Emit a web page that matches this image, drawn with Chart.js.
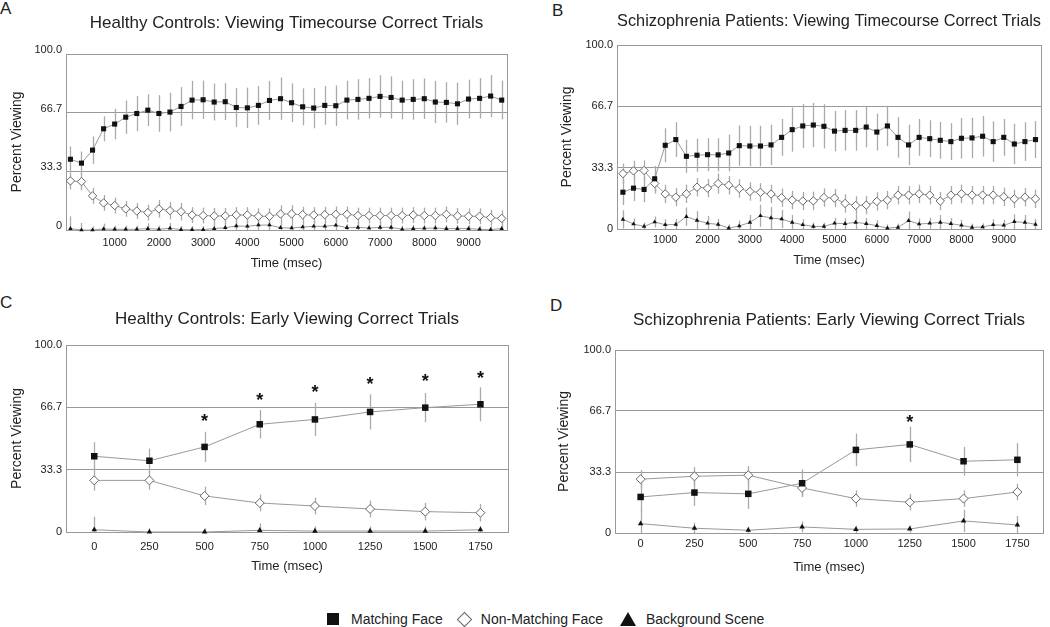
<!DOCTYPE html>
<html>
<head>
<meta charset="utf-8">
<script src="https://cdn.jsdelivr.net/npm/chart.js@4.4.1/dist/chart.umd.min.js"></script>
<style>
  body { margin: 0; background: #fff; font-family: "Liberation Sans", Arial, sans-serif; color: #222; }
  #wrap { position: relative; width: 1050px; height: 627px; overflow: hidden; }
  canvas { position: absolute; }
  .letter { position: absolute; font-size: 17px; line-height: 17px; }
  #legend { position: absolute; left: 327px; top: 610px; display: flex; align-items: center; font-size: 14px; line-height: 18px; }
  .sq { width: 12px; height: 12px; background: #111; margin-right: 12px; }
  .dm { width: 9px; height: 9px; border: 1px solid #666; background: #fff; transform: rotate(45deg); margin: 0 11px 0 16px; }
  .tr { width: 0; height: 0; border-left: 8px solid transparent; border-right: 8px solid transparent; border-bottom: 14px solid #111; margin: 0 10px 0 17px; }
</style>
</head>
<body>
<div id="wrap">
  <div class="letter" style="left:0;top:0">A</div>
  <div class="letter" style="left:552px;top:2px">B</div>
  <div class="letter" style="left:0;top:294px">C</div>
  <div class="letter" style="left:550px;top:297px">D</div>
  <canvas id="chartA" width="525" height="290" style="left:0;top:0"></canvas>
  <canvas id="chartB" width="525" height="290" style="left:525px;top:0"></canvas>
  <canvas id="chartC" width="525" height="300" style="left:0;top:290px"></canvas>
  <canvas id="chartD" width="525" height="300" style="left:525px;top:290px"></canvas>
  <div id="legend">
    <span class="sq"></span><span>Matching Face</span>
    <span class="dm"></span><span>Non-Matching Face</span>
    <span class="tr"></span><span>Background Scene</span>
  </div>
</div>
<script>
// time points (msec)
const timeLong = [0, 250, 500, 750, 1000, 1250, 1500, 1750, 2000, 2250, 2500, 2750, 3000, 3250, 3500, 3750, 4000, 4250, 4500, 4750,
  5000, 5250, 5500, 5750, 6000, 6250, 6500, 6750, 7000, 7250, 7500, 7750, 8000, 8250, 8500, 8750, 9000, 9250, 9500, 9750];
const timeShort = [0, 250, 500, 750, 1000, 1250, 1500, 1750];
const xTicksLong = [1000, 2000, 3000, 4000, 5000, 6000, 7000, 8000, 9000];
const xTicksShort = [0, 250, 500, 750, 1000, 1250, 1500, 1750];
const yTicks = [0, 33.3, 66.7, 100];
const yTickLabels = ['0', '33.3', '66.7', '100.0'];

// A: healthy controls, timecourse
const aMatch = [40.2, 38.0, 45.4, 57.5, 60.2, 64.1, 66.2, 68.1, 66.2, 67.0, 70.2, 73.8, 74.0, 72.7, 72.9, 69.6, 69.4, 70.8, 73.6, 74.6,
  72.3, 70.0, 69.3, 70.8, 70.6, 73.8, 74.2, 74.8, 75.9, 75.3, 73.8, 74.2, 74.6, 72.7, 72.5, 71.7, 74.4, 74.8, 76.1, 73.8];
const aMatchErr = [7.3, 6.6, 7.8, 7.1, 8.7, 9.5, 10, 9, 10.4, 11, 11, 10.9, 10.9, 10.5, 10.5, 11, 11.5, 11, 11, 12,
  11, 10.5, 11.5, 11, 11.5, 11, 11.5, 11.5, 12, 12, 11, 11.5, 11.5, 12, 11.5, 12, 11, 11.5, 12, 11];
const aNon = [27.9, 27.5, 19.4, 15.4, 13.9, 12.0, 10.8, 9.9, 12.0, 11.0, 10.4, 8.5, 8.2, 8.0, 8.0, 8.5, 8.5, 7.8, 7.8, 9.1,
  9.1, 8.7, 8.5, 8.7, 8.9, 8.9, 8.2, 8.2, 8.2, 8.2, 8.2, 8.5, 8.2, 8.2, 8.9, 8.0, 7.8, 7.8, 7.0, 6.6];
const aNonErr = [4.9, 5, 4.5, 4.5, 4.5, 4.5, 4.5, 4.5, 5, 5, 5, 4.5, 4.5, 4.5, 4.5, 4.5, 4.5, 4.5, 4.5, 5,
  5, 4.5, 4.5, 4.5, 4.5, 4.5, 4.5, 4.5, 4.5, 4.5, 4.5, 4.5, 4.5, 4.5, 4.5, 4.5, 4.5, 4.5, 4.5, 4.5];
const aBack = [0.8, 0, 0, 0.6, 0.4, 0.4, 0.4, 0.8, 0.4, 1.0, 0.2, 0.2, 0.2, 0.8, 1.3, 2.3, 2.1, 2.8, 2.8, 1.3,
  1.1, 1.7, 2.1, 2.1, 2.7, 1.3, 1.5, 1.1, 1.5, 1.5, 0.4, 0.8, 1.0, 1.1, 0.8, 0.8, 0.8, 0.4, 0.2, 0.8];
const aBackErr = [7, 4, 2, 3, 2, 2, 2, 3, 2, 3, 2, 2, 2, 3, 3, 3, 3, 3, 3, 3,
  3, 3, 3, 3, 3, 2, 3, 2, 3, 3, 2, 2, 2, 2, 2, 2, 2, 2, 2, 2];

// B: schizophrenia patients, timecourse
const bMatch = [20.0, 22.2, 21.5, 27.3, 45.5, 48.6, 39.5, 40.1, 40.4, 40.3, 41.3, 45.3, 45.1, 45.1, 45.7, 49.8, 54.0, 56.0, 56.5, 55.8,
  53.2, 53.6, 53.6, 55.4, 52.7, 56.0, 49.8, 45.7, 49.8, 49.1, 48.2, 47.5, 49.3, 49.5, 50.4, 47.5, 49.8, 46.2, 47.5, 48.6];
const bMatchErr = [7, 7, 7, 7, 9.2, 9.5, 9, 9, 9, 9, 10, 11, 11, 11, 11, 10, 12, 12, 12, 12,
  11, 11, 11, 11, 10, 11, 11, 11, 10, 10, 10, 10, 11, 11, 11, 11, 10, 11, 10.5, 10];
const bNon = [30.1, 31.6, 31.8, 24.7, 19.1, 17.3, 19.1, 22.7, 22.2, 24.7, 23.8, 22.0, 20.4, 19.9, 19.0, 17.0, 15.7, 15.2, 15.3, 17.1,
  16.8, 13.9, 12.8, 13.0, 15.0, 15.7, 18.4, 18.4, 19.1, 18.4, 15.2, 18.4, 19.1, 18.4, 18.4, 18.4, 17.5, 16.4, 17.3, 16.4];
const bNonErr = [5.5, 5.5, 5.5, 5.5, 5, 5, 5, 5, 5, 5.5, 5, 5, 5, 5, 5, 5, 5, 5, 5, 5,
  5, 5, 5, 5, 5, 5, 5, 5, 5, 5, 5, 5, 5, 5, 5, 5, 5, 5, 5, 5];
const bBack = [5.2, 2.7, 1.4, 3.8, 2.3, 2.5, 6.7, 4.7, 3.1, 2.5, 0.5, 1.6, 3.6, 7.2, 6.0, 5.4, 3.6, 2.3, 1.4, 1.4,
  3.1, 2.9, 3.6, 2.9, 1.8, 0.5, 0.9, 4.5, 2.7, 3.1, 3.6, 2.9, 2.0, 0.9, 1.1, 2.3, 2.0, 4.0, 3.6, 2.5];
const bBackErr = [5, 3, 2, 3, 3, 3, 5, 5, 4, 3, 2, 3, 4, 6, 6, 5, 4, 3, 2, 2,
  3, 3, 4, 3, 3, 2, 2, 5, 3, 3, 4, 3, 3, 2, 2, 3, 3, 4, 4, 3];

// C: healthy controls, early viewing
const cMatch = [40.5, 38.1, 45.5, 57.6, 60.2, 64.2, 66.5, 68.3];
const cMatchErr = [7.5, 6.5, 8.1, 7.6, 8.9, 9.4, 7.8, 9.1];
const cNon = [27.6, 27.6, 19.3, 15.5, 13.9, 12.3, 10.9, 10.3];
const cNonErr = [5.5, 5, 4.9, 4.5, 4.5, 4.5, 4.7, 4.7];
const cBack = [1.2, 0, 0, 0.9, 0.5, 0.5, 0.5, 1.2];
const cBackErr = [7, 2, 2, 3.7, 2.5, 2.5, 2.5, 2];
const cStars = [null, null, 61.5, 72.9, 77.2, 81.1, 82.9, 84.7];

// D: schizophrenia patients, early viewing
const dMatch = [19.7, 22.1, 21.4, 27.2, 45.4, 48.4, 39.2, 40.0];
const dMatchErr = [8, 7.3, 8.2, 7.5, 8.9, 9.7, 7.9, 9.1];
const dNon = [29.4, 31.0, 31.6, 24.6, 18.8, 16.8, 18.8, 22.4];
const dNonErr = [5, 5, 5, 4.8, 4.5, 4.5, 4.5, 4.5];
const dBack = [5.1, 2.6, 1.5, 3.3, 2.0, 2.2, 6.6, 4.4];
const dBackErr = [8, 3, 2, 3, 2, 2, 6, 5];
const dStars = [null, null, null, null, null, 63.0, null, null];

Chart.defaults.font.family = '"Liberation Sans", Arial, sans-serif';
Chart.defaults.color = '#222';

const GRAY = '#999';

// vertical error bars behind the markers
const errorBars = {
  id: 'errorBars',
  beforeDatasetsDraw(chart) {
    const {ctx, chartArea, scales: {x, y}} = chart;
    ctx.save();
    ctx.beginPath();
    ctx.rect(chartArea.left, chartArea.top, chartArea.width, chartArea.height);
    ctx.clip();
    ctx.strokeStyle = '#aaa';
    ctx.lineWidth = 1.3;
    chart.data.datasets.forEach(ds => {
      if (!ds.errors) return;
      ds.data.forEach((p, i) => {
        const e = ds.errors[i];
        const px = Math.round(x.getPixelForValue(p.x)) + 0.5;
        ctx.beginPath();
        ctx.moveTo(px, y.getPixelForValue(p.y - e));
        ctx.lineTo(px, y.getPixelForValue(p.y + e));
        ctx.stroke();
      });
    });
    ctx.restore();
  }
};

// box round the plot area
const frame = {
  id: 'frame',
  beforeDatasetsDraw(chart) {
    const {ctx, chartArea: a} = chart;
    ctx.save();
    ctx.strokeStyle = GRAY;
    ctx.lineWidth = 1;
    ctx.strokeRect(Math.round(a.left) + 0.5, Math.round(a.top) + 0.5, Math.round(a.width), Math.round(a.height));
    ctx.restore();
  }
};

// significance asterisks
const stars = {
  id: 'stars',
  afterDatasetsDraw(chart) {
    const {ctx, scales: {x, y}} = chart;
    chart.data.datasets.forEach(ds => {
      if (!ds.stars) return;
      ctx.save();
      ctx.font = 'bold 18px "Liberation Sans", Arial, sans-serif';
      ctx.fillStyle = '#111';
      ctx.textAlign = 'center';
      ctx.textBaseline = 'alphabetic';
      ds.stars.forEach((s, i) => {
        if (s === null) return;
        ctx.fillText('*', x.getPixelForValue(ds.data[i].x), y.getPixelForValue(s) + 10);
      });
      ctx.restore();
    });
  }
};

function pts(times, vals) {
  return times.map((t, i) => ({x: t, y: vals[i]}));
}

function makePanel(id, g, times, xTicks, xMin, xMax, title, s, big) {
  const r = big ? 1 : 0;
  new Chart(document.getElementById(id), {
    type: 'line',
    data: {
      datasets: [
        {
          label: 'Matching Face', data: pts(times, s.match), errors: s.matchErr, stars: s.stars,
          borderColor: GRAY, borderWidth: 1, pointStyle: 'rect', pointRadius: 3.6 + r,
          pointBackgroundColor: '#111', pointBorderColor: '#111', pointBorderWidth: 0, clip: false
        },
        {
          label: 'Non-Matching Face', data: pts(times, s.non), errors: s.nonErr,
          borderColor: GRAY, borderWidth: 1, pointStyle: 'rectRot', pointRadius: 4.2 + r * 0.3,
          pointBackgroundColor: '#fff', pointBorderColor: '#666', pointBorderWidth: 1, clip: false
        },
        {
          label: 'Background Scene', data: pts(times, s.back), errors: s.backErr,
          borderColor: GRAY, borderWidth: 1, pointStyle: 'triangle', pointRadius: 2.6 + r * 0.6,
          pointBackgroundColor: '#111', pointBorderColor: '#111', pointBorderWidth: 0, clip: false
        }
      ]
    },
    options: {
      responsive: false,
      animation: false,
      devicePixelRatio: 1,
      layout: {padding: {left: 0, top: 0, right: g.padRight, bottom: g.padBottom}},
      plugins: {
        legend: {display: false},
        tooltip: {enabled: false},
        title: {
          display: true, text: title, fullSize: false, color: '#222',
          font: {size: 17, weight: 'normal'},
          padding: {top: g.titleTop, bottom: g.titleBottom}
        }
      },
      scales: {
        x: {
          type: 'linear', min: xMin, max: xMax,
          afterBuildTicks: axis => { axis.ticks = xTicks.map(v => ({value: v})); },
          afterFit: axis => { axis.height = g.xHeight; },
          grid: {display: false, drawTicks: false},
          border: {display: false},
          ticks: {font: {size: 11}, padding: g.xTickPad, maxRotation: 0, autoSkip: false, color: '#222',
            callback: v => String(v)},
          title: {display: true, text: 'Time (msec)', font: {size: 13}, padding: {top: 0, bottom: 0}, color: '#222'}
        },
        y: {
          min: 0, max: 100,
          afterBuildTicks: axis => { axis.ticks = yTicks.map(v => ({value: v})); },
          afterFit: axis => { axis.width = g.yWidth; },
          grid: {color: GRAY, drawTicks: false, lineWidth: 1},
          border: {display: false},
          ticks: {font: {size: 11}, padding: 4, color: '#222', labelOffset: g.yLabelOffset,
            callback: (v, i) => yTickLabels[i]},
          title: {display: true, text: 'Percent Viewing', font: {size: 14}, padding: {top: g.yTitlePad, bottom: 0}, color: '#222'}
        }
      }
    },
    plugins: [frame, errorBars, stars]
  });
}

makePanel('chartA',
  {padRight: 18, padBottom: 19.2, titleTop: 12.8, titleBottom: 20.8, xHeight: 40.8, yWidth: 66, xTickPad: 6.4, yTitlePad: 8.6, yLabelOffset: -4},
  timeLong, xTicksLong, -100, 9870, 'Healthy Controls: Viewing Timecourse Correct Trials',
  {match: aMatch, matchErr: aMatchErr, non: aNon, nonErr: aNonErr, back: aBack, backErr: aBackErr, stars: null}, false);

makePanel('chartB',
  {padRight: 9, padBottom: 22.2, titleTop: 11.5, titleBottom: 13.1, xHeight: 38.8, yWidth: 92, xTickPad: 4.4, yTitlePad: 33.3, yLabelOffset: 0},
  timeLong, xTicksLong, -140, 9880, 'Schizophrenia Patients: Viewing Timecourse Correct Trials',
  {match: bMatch, matchErr: bMatchErr, non: bNon, nonErr: bNonErr, back: bBack, backErr: bBackErr, stars: null}, false);

makePanel('chartC',
  {padRight: 17, padBottom: 15.5, titleTop: 18.8, titleBottom: 15.8, xHeight: 42.5, yWidth: 66, xTickPad: 8.1, yTitlePad: 8.6, yLabelOffset: 0},
  timeShort, xTicksShort, -128, 1875, 'Healthy Controls: Early Viewing Correct Trials',
  {match: cMatch, matchErr: cMatchErr, non: cNon, nonErr: cNonErr, back: cBack, backErr: cBackErr, stars: cStars}, true);

makePanel('chartD',
  {padRight: 7, padBottom: 15.2, titleTop: 19.8, titleBottom: 19.8, xHeight: 41.8, yWidth: 90, xTickPad: 4.4, yTitlePad: 30.6, yLabelOffset: 0},
  timeShort, xTicksShort, -119, 1869, 'Schizophrenia Patients: Early Viewing Correct Trials',
  {match: dMatch, matchErr: dMatchErr, non: dNon, nonErr: dNonErr, back: dBack, backErr: dBackErr, stars: dStars}, true);
</script>
</body>
</html>
